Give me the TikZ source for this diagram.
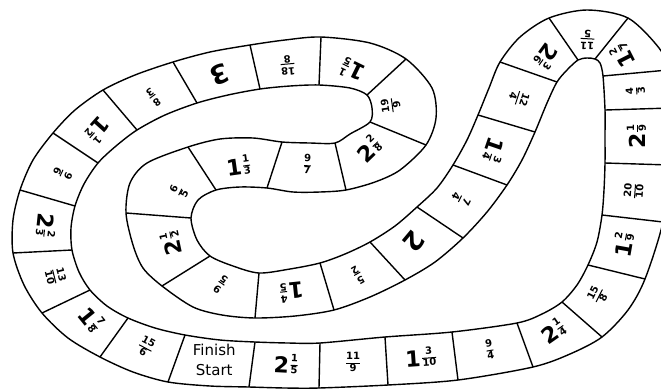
\documentclass[tikz,border=0pt]{standalone}
\usepackage{fontspec}
\setmainfont{DejaVu Sans}
\usetikzlibrary{calc}
\newcommand\fr[2]{{\fontsize{10}{10}\selectfont\bfseries\renewcommand\arraystretch{1.08}\setlength\tabcolsep{0pt}\setlength\arrayrulewidth{1pt}\begin{tabular}{c}#1\\\hline#2\end{tabular}}}
\newcommand\mx[3]{{\fontsize{22}{22}\selectfont\bfseries#1}\kern1.5pt\raisebox{5.5pt}{\fr{#2}{#3}}}
\newcommand\wh[1]{{\fontsize{26}{26}\selectfont\bfseries#1}}
\newcommand\cell[4]{\node[lab,rotate=#3] (c#1) at ($.25*(a#1)+.25*(b#1)+.25*(a#2)+.25*(b#2)$) {#4};}
\tikzset{edge/.style={line width=1.4pt,line join=round},lab/.style={inner sep=0pt}}
\begin{document}
\begin{tikzpicture}[x=1pt,y=-1pt]
\useasboundingbox (0,0) rectangle (661,389);
\clip (0,0) rectangle (661,389);
% divider end points: a = outer side, b = inner side
\coordinate (a0) at (168,382); \coordinate (b0) at (185,335);
\coordinate (a1) at (249,387); \coordinate (b1) at (255,342);
\coordinate (a2) at (319,388); \coordinate (b2) at (320,343);
\coordinate (a3) at (388,385); \coordinate (b3) at (385,337);
\coordinate (a4) at (458,380); \coordinate (b4) at (452,332);
\coordinate (a5) at (533,367); \coordinate (b5) at (517,323);
\coordinate (a6) at (602,337); \coordinate (b6) at (562,302);
\coordinate (a7) at (645,279); \coordinate (b7) at (588,265);
\coordinate (a8) at (663,222); \coordinate (b8) at (602,215);
\coordinate (a9) at (670,165); \coordinate (b9) at (605,163);
\coordinate (a10) at (671,108); \coordinate (b10) at (605,110);
\coordinate (a11) at (668,70); \coordinate (b11) at (603,76);
\coordinate (a12) at (628,18); \coordinate (b12) at (595,59);
\coordinate (a13) at (549,18); \coordinate (b13) at (578,60);
\coordinate (a14) at (500,62); \coordinate (b14) at (557,82);
\coordinate (a15) at (478,115); \coordinate (b15) at (535,132);
\coordinate (a16) at (453,165); \coordinate (b16) at (507,185);
\coordinate (a17) at (417,207); \coordinate (b17) at (463,238);
\coordinate (a18) at (370,242); \coordinate (b18) at (405,280);
\coordinate (a19) at (320,263); \coordinate (b19) at (334,310);
\coordinate (a20) at (259,273); \coordinate (b20) at (255,318);
\coordinate (a21) at (210,256); \coordinate (b21) at (162,286);
\coordinate (a22) at (191,218); \coordinate (b22) at (126,213);
\coordinate (a23) at (216,190); \coordinate (b23) at (188,147);
\coordinate (a24) at (267,188); \coordinate (b24) at (282,142);
\coordinate (a25) at (346,190); \coordinate (b25) at (335,143);
\coordinate (a26) at (426,145); \coordinate (b26) at (370,122);
\coordinate (a27) at (406,59); \coordinate (b27) at (367,95);
\coordinate (a28) at (321,37); \coordinate (b28) at (319,85);
\coordinate (a29) at (250,45); \coordinate (b29) at (260,89);
\coordinate (a30) at (173,62); \coordinate (b30) at (197,103);
\coordinate (a31) at (103,90); \coordinate (b31) at (137,130);
\coordinate (a32) at (53,133); \coordinate (b32) at (98,163);
\coordinate (a33) at (20,190); \coordinate (b33) at (75,206);
\coordinate (a34) at (13,253); \coordinate (b34) at (72,250);
\coordinate (a35) at (42,313); \coordinate (b35) at (90,290);
\coordinate (a36) at (100,357); \coordinate (b36) at (128,318);
\coordinate (a37) at (168,382); \coordinate (b37) at (185,335);
% outer boundary
\draw[edge] plot[smooth cycle,tension=0.5] coordinates {
 (a1) (285,388) (a2) (a3) (a4) (a5) (570,354) (a6) (628,310) (a7) (a8) (a9) (a10) (a11) (659,48)
 (a12) (587,10) (a13) (520,37) (a14) (489,88) (a15) (467,140) (a16) (437,188) (a17) (395,226)
 (a18) (345,254) (a19) (290,269) (a20) (233,266) (a21) (197,240) (a22) (198,200) (a23) (240,187)
 (a24) (293,192) (320,192) (a25) (375,182) (400,170) (a26) (436,118) (432,88) (a27) (370,43)
 (a28) (285,40) (a29) (210,52) (a30) (135,75) (a31) (75,110) (a32) (33,160) (a33) (13,220)
 (a34) (24,285) (a35) (68,338) (a36) (133,372) (a0) (210,386)};
% inner boundary
\draw[edge] plot[smooth cycle,tension=0.5] coordinates {
 (b1) (288,343) (b2) (b3) (b4) (b5) (542,314) (b6) (577,285) (b7) (597,242) (b8) (604,190)
 (b9) (605,136) (b10) (b11) (600,63) (b12) (587,58) (b13) (567,70) (b14) (547,103) (b15)
 (522,160) (b16) (487,212) (b17) (435,262) (b18) (370,297) (b19) (295,316) (b20) (222,315)
 (193,307) (b21) (143,268) (133,245) (b22) (130,183) (147,163) (b23) (220,139) (253,138)
 (b24) (310,143) (b25) (350,134) (b26) (372,108) (b27) (350,88) (b28) (290,86) (b29) (228,95)
 (b30) (165,115) (b31) (116,146) (b32) (84,184) (b33) (71,228) (b34) (79,272) (b35) (107,306)
 (b36) (155,328) (b0) (220,340)};
% dividers
\foreach \i in {0,...,36} {\draw[edge] (a\i) -- (b\i);}
% labels
\cell{0}{1}{0}{\fontsize{15}{20}\selectfont\begin{tabular}{@{}c@{}}Finish\\Start\end{tabular}}
\cell{1}{2}{-3}{\mx{2}{1}{5}}
\cell{2}{3}{0}{\fr{11}{9}}
\cell{3}{4}{4}{\mx{1}{3}{10}}
\cell{4}{5}{10}{\fr{9}{4}}
\cell{5}{6}{35}{\mx{2}{1}{4}}
\cell{6}{7}{63}{\fr{15}{8}}
\cell{7}{8}{80}{\mx{1}{2}{9}}
\cell{8}{9}{86}{\fr{20}{10}}
\cell{9}{10}{90}{\mx{2}{1}{9}}
\cell{10}{11}{94}{\fr{4}{3}}
\cell{11}{12}{117}{\mx{1}{2}{7}}
\cell{12}{13}{177}{\fr{11}{5}}
\cell{13}{14}{234}{\mx{2}{3}{6}}
\cell{14}{15}{252}{\fr{12}{4}}
\cell{15}{16}{251}{\mx{1}{3}{4}}
\cell{16}{17}{243}{\fr{7}{4}}
\cell{17}{18}{230}{\wh{2}}
\cell{18}{19}{210}{\fr{5}{2}}
\cell{19}{20}{186}{\mx{1}{4}{5}}
\cell{20}{21}{145}{\fr{9}{5}}
\cell{21}{22}{102}{\mx{2}{1}{2}}
\cell{22}{23}{63}{\fr{6}{5}}
\cell{23}{24}{8}{\mx{1}{1}{3}}
\cell{24}{25}{-2}{\fr{9}{7}}
\cell{25}{26}{44}{\mx{2}{2}{8}}
\cell{26}{27}{98}{\fr{19}{9}}
\cell{27}{28}{154}{\mx{1}{1}{5}}
\cell{28}{29}{185}{\fr{18}{8}}
\cell{29}{30}{202}{\wh{3}}
\cell{30}{31}{216}{\fr{8}{3}}
\cell{31}{32}{228}{\mx{1}{1}{2}}
\cell{32}{33}{245}{\fr{9}{6}}
\cell{33}{34}{264}{\mx{2}{2}{3}}
\cell{34}{35}{-76}{\fr{13}{10}}
\cell{35}{36}{-51}{\mx{1}{7}{8}}
\cell{36}{37}{-28}{\fr{15}{6}}
\end{tikzpicture}
\end{document}
